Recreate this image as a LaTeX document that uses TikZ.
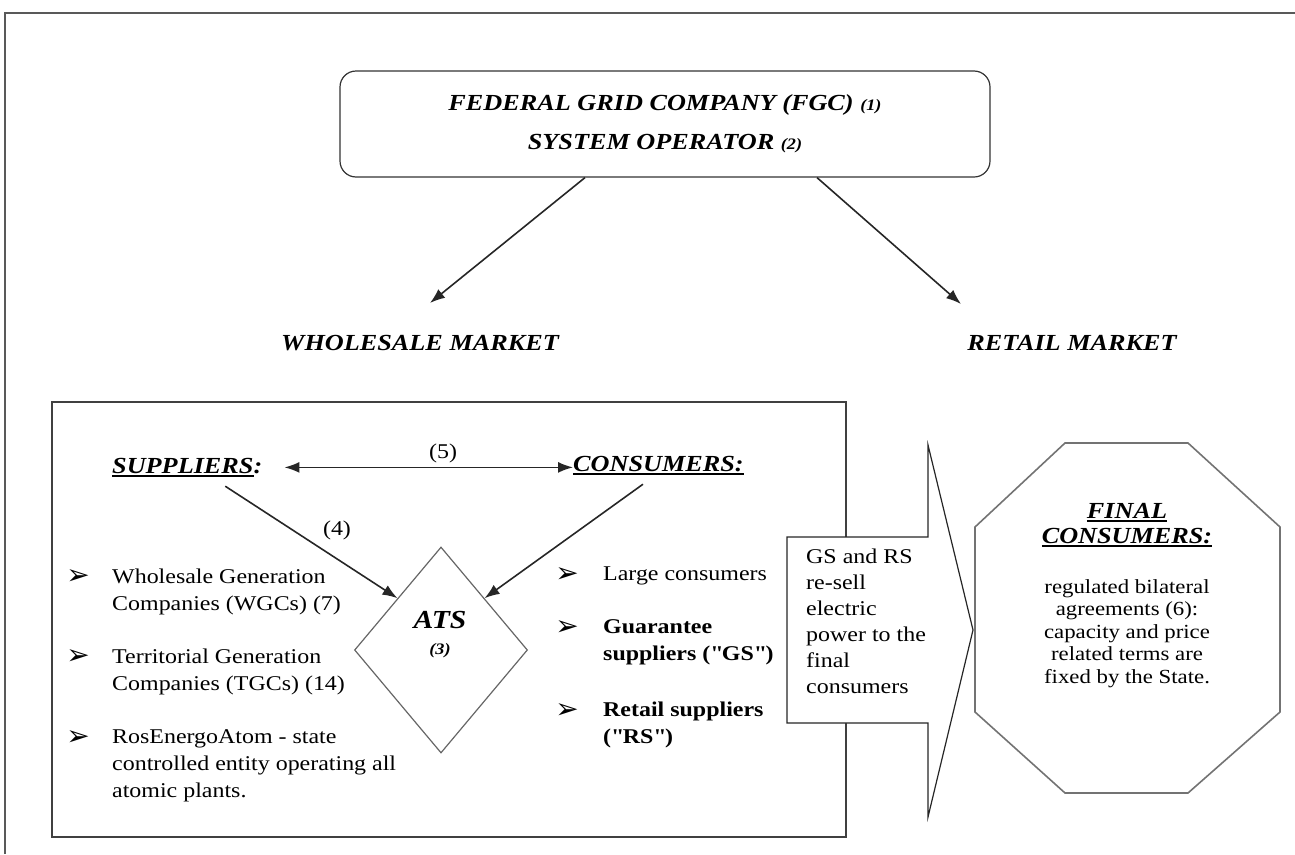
\documentclass[tikz,border=0pt]{standalone}
\usepackage{fontspec}
\setmainfont{Liberation Serif}[FakeStretch=1.14]
\newfontfamily\dingfont{DejaVu Sans}
\usetikzlibrary{arrows.meta,shapes.geometric}
\newcommand{\hdfont}{\fontsize{23}{28}\selectfont\bfseries\itshape}
\newcommand{\bdfont}{\fontsize{21}{27}\selectfont}
\newcommand{\smfont}{\fontsize{16}{18}\selectfont\bfseries\itshape}
\newcommand{\headul}[1]{\leavevmode\setbox0=\hbox{#1}\rlap{\rule[-4pt]{\wd0}{2pt}}\box0}
\begin{document}
\begin{tikzpicture}[x=1pt, y=-1pt,
    >={Latex[length=15pt,width=11pt]},
    conn/.style={draw=black!85, line width=1.6pt, ->},
    head/.style={font=\hdfont, inner sep=0pt},
    body/.style={font=\bdfont, inner sep=0pt, align=left},
    bul/.style={font=\dingfont\fontsize{28}{28}\selectfont, inner sep=0pt}]
	\useasboundingbox (0,0) rectangle (1295,854);
	% frame
	\draw[draw=black!65, line width=2.5pt] (5,854) -- (5,13) -- (1295,13);
	% top box
	\node[draw=black!80, line width=1.2pt, rounded corners=16pt, minimum width=650pt, minimum height=106pt, align=center, font=\hdfont] (fgc) at (665,124) {FEDERAL GRID COMPANY (FGC) {\smfont(1)}\\[11pt]SYSTEM OPERATOR {\smfont(2)}};
	\coordinate (wtip) at (430,303);
	\coordinate (rtip) at (961,304);
	\draw[conn] ([xshift=-80pt]fgc.south) -- (wtip);
	\draw[conn] ([xshift=152pt]fgc.south) -- (rtip);
	\node[head, anchor=base] (whm) at (420,350) {WHOLESALE MARKET};
	\node[head, anchor=base] (rtm) at (1072,350) {RETAIL MARKET};
	% wholesale box
	\draw[draw=black!75, line width=1.5pt] (52,402) rectangle (846,837);
	\node[head, anchor=base west] (sup) at (112,473) {\headul{SUPPLIERS}:};
	\node[head, anchor=base west] (con) at (573,471) {\headul{CONSUMERS:}};
	\draw[conn, <->] ([xshift=22pt]sup.east) -- (sup.east -| con.west)
		node[pos=0.55, above=4pt, font=\bdfont, inner sep=0pt] (n5) {(5)};
	\node[diamond, draw=black!60, line width=1.2pt, minimum width=173pt, minimum height=206pt, inner sep=0pt] (ats) at (441,650) {};
	\node[align=center, inner sep=0pt, anchor=north, font=\fontsize{26}{26}\selectfont\bfseries\itshape] (atslbl) at (440,611) {ATS\\{\smfont(3)}};
	\draw[conn] ([xshift=38pt,yshift=-9pt]sup.south) -- (ats.north west);
	\node[font=\bdfont, fill=white, inner sep=5pt] (n4) at (337,530) {(4)};
	\draw[conn] ([xshift=70pt,yshift=-9pt]con.south west) -- (ats.north east);
	% suppliers list
	\node[bul] (b1) at (78,577) {➢};
	\node[body, anchor=north west] (wgc) at (112,568.5) {Wholesale Generation\\Companies (WGCs) (7)};
	\node[bul] (b2) at (78,657) {➢};
	\node[body, anchor=north west] (tgc) at (112,648.5) {Territorial Generation\\Companies (TGCs) (14)};
	\node[bul] (b3) at (78,738) {➢};
	\node[body, anchor=north west] (rea) at (112,729.5) {RosEnergoAtom - state\\controlled entity operating all\\atomic plants.};
	% consumers list
	\node[bul] (b4) at (567,575) {➢};
	\node[body, anchor=north west] (lrg) at (603,566.5) {Large consumers};
	\node[bul] (b5) at (567,628) {➢};
	\node[body, anchor=north west, font=\bdfont\bfseries] (gs) at (603,619.5) {Guarantee\\suppliers (\textquotedbl GS\textquotedbl)};
	\node[bul] (b6) at (567,711) {➢};
	\node[body, anchor=north west, font=\bdfont\bfseries] (rs) at (603,701.5) {Retail suppliers\\(\textquotedbl RS\textquotedbl)};
	% callout
	\draw[draw=black!85, line width=1.2pt, fill=white] (787,537) -- (928,537) -- (928,445) -- (973,630) -- (928,817) -- (928,723) -- (787,723) -- cycle;
	\node[body, anchor=north west, font=\fontsize{21}{26}\selectfont] (resell) at (806,548.5) {GS and RS\\re-sell\\electric\\power to the\\final\\consumers};
	% final consumers
	\draw[draw=black!55, line width=1.6pt] (1065,443) -- (1188,443) -- (1280,527) -- (1280,712) -- (1188,793) -- (1065,793) -- (975,712) -- (975,527) -- cycle;
	\node[head, align=center, anchor=north] (fchead) at (1127,503) {\headul{FINAL}\\[-3pt]\headul{CONSUMERS:}};
	\node[body, align=center, anchor=north, font=\fontsize{20}{22.5}\selectfont] (fcbody) at (1127,579) {regulated bilateral\\agreements (6):\\capacity and price\\related terms are\\fixed by the State.};
\end{tikzpicture}
\end{document}
